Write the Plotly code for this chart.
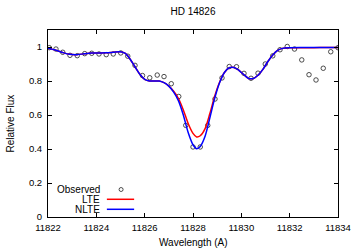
import plotly.graph_objects as go

# Observed spectrum
obs_wl = [11822.05, 11822.33, 11822.61, 11822.91, 11823.21, 11823.52, 11823.81, 11824.11,
          11824.41, 11824.70, 11825.01, 11825.30, 11825.60, 11825.91, 11826.21, 11826.52,
          11826.80, 11827.10, 11827.41, 11827.70, 11828.00, 11828.30, 11828.61, 11828.91,
          11829.20, 11829.50, 11829.80, 11830.11, 11830.40, 11830.69, 11830.99, 11831.30,
          11831.60, 11831.90, 11832.20, 11832.50, 11832.80, 11833.09, 11833.39, 11833.70,
          11834.00]
obs_flux = [0.996, 0.988, 0.969, 0.951, 0.949, 0.961, 0.963, 0.959,
            0.955, 0.959, 0.965, 0.946, 0.892, 0.832, 0.819, 0.835,
            0.826, 0.784, 0.709, 0.539, 0.412, 0.412, 0.539, 0.694,
            0.818, 0.885, 0.884, 0.845, 0.816, 0.846, 0.900, 0.948,
            0.984, 1.003, 0.988, 0.924, 0.837, 0.806, 0.875, 0.972,
            0.996]

# Model spectra
model_wl = [11822.0, 11822.3, 11822.6, 11822.9, 11823.2, 11823.5, 11823.8, 11824.1,
            11824.4, 11824.7, 11825.0, 11825.2, 11825.4, 11825.6, 11825.8, 11826.0,
            11826.2, 11826.4, 11826.6, 11826.8, 11827.0, 11827.2, 11827.4, 11827.6,
            11827.8, 11828.0, 11828.15, 11828.3, 11828.5, 11828.7, 11828.9, 11829.1,
            11829.3, 11829.5, 11829.7, 11829.9, 11830.1, 11830.3, 11830.5, 11830.7,
            11830.9, 11831.1, 11831.3, 11831.5, 11831.7, 11832.0, 11832.5, 11833.0,
            11833.5, 11834.0]
nlte_flux = [0.993, 0.982, 0.968, 0.957, 0.955, 0.960, 0.964, 0.965,
             0.966, 0.969, 0.972, 0.962, 0.928, 0.884, 0.840, 0.810,
             0.800, 0.800, 0.800, 0.790, 0.770, 0.735, 0.683, 0.600,
             0.497, 0.425, 0.402, 0.415, 0.475, 0.585, 0.700, 0.790,
             0.850, 0.878, 0.880, 0.863, 0.838, 0.815, 0.815, 0.835,
             0.870, 0.915, 0.953, 0.980, 0.992, 0.996, 0.997, 0.997,
             0.997, 0.997]
lte_flux = [0.993, 0.982, 0.968, 0.957, 0.955, 0.960, 0.964, 0.965,
            0.966, 0.969, 0.972, 0.962, 0.928, 0.884, 0.840, 0.810,
            0.800, 0.800, 0.800, 0.790, 0.770, 0.740, 0.697, 0.630,
            0.550, 0.492, 0.471, 0.478, 0.520, 0.610, 0.712, 0.793,
            0.850, 0.878, 0.880, 0.863, 0.838, 0.815, 0.815, 0.835,
            0.870, 0.915, 0.953, 0.980, 0.992, 0.996, 0.996, 0.996,
            0.997, 0.997]

x_ticks = [11822, 11824, 11826, 11828, 11830, 11832, 11834]
y_ticks = [0, 0.2, 0.4, 0.6, 0.8, 1]
y_tick_labels = ["0", "0.2", "0.4", "0.6", "0.8", "1"]

FONT = "Liberation Sans, Arial, sans-serif"

fig = go.Figure()
fig.add_trace(go.Scatter(x=obs_wl, y=obs_flux, mode="markers", name="Observed",
                         marker=dict(symbol="circle-open", size=4.5, color="#222222",
                                     line=dict(width=0.8, color="#222222")),
                         showlegend=False))
fig.add_trace(go.Scatter(x=model_wl, y=lte_flux, mode="lines", name="LTE",
                         line=dict(color="#ff0000", width=1.5, shape="spline", smoothing=0.8),
                         showlegend=False))
fig.add_trace(go.Scatter(x=model_wl, y=nlte_flux, mode="lines", name="NLTE",
                         line=dict(color="#0000ff", width=1.5, shape="spline", smoothing=0.8),
                         showlegend=False))

axis_common = dict(showline=True, linecolor="black", linewidth=1, mirror="ticks",
                   ticks="inside", ticklen=4, tickwidth=1, tickcolor="black",
                   showgrid=False, zeroline=False, automargin=False,
                   tickfont=dict(family=FONT, size=9.5, color="black"))

fig.update_xaxes(range=[11822, 11834], tickvals=x_ticks,
                 ticktext=[str(v) for v in x_ticks], ticklabelstandoff=2,
                 **axis_common)
fig.update_yaxes(range=[0, 1.1], tickvals=y_ticks, ticktext=y_tick_labels,
                 ticklabelstandoff=3,
                 **axis_common)

annotations = [
    dict(text="Wavelength (A)", x=0.5, y=-0.134, xref="paper", yref="paper",
         xanchor="center", yanchor="middle", showarrow=False,
         font=dict(family=FONT, size=10, color="black")),
    dict(text="Relative Flux", x=-0.131, y=0.5, xref="paper", yref="paper",
         xanchor="center", yanchor="middle", showarrow=False, textangle=-90,
         font=dict(family=FONT, size=10, color="black")),
]

# gnuplot-style key: right-aligned text followed by sample
legend_items = [("Observed", "marker", 0.147), ("LTE", "#ff0000", 0.0947), ("NLTE", "#0000ff", 0.0412)]
shapes = []
for label, kind, ypos in legend_items:
    annotations.append(dict(text=label, x=0.183, y=ypos, xref="paper", yref="paper",
                            xanchor="right", yanchor="middle", showarrow=False,
                            borderpad=0,
                            font=dict(family=FONT, size=10, color="black")))
    if kind == "marker":
        shapes.append(dict(type="circle", xref="paper", yref="paper",
                           xsizemode="pixel", ysizemode="pixel",
                           xanchor=0.252, yanchor=ypos, x0=-2, x1=2, y0=-2, y1=2,
                           line=dict(color="#222222", width=0.8)))
    else:
        shapes.append(dict(type="line", xref="paper", yref="paper",
                           x0=0.203, x1=0.297, y0=ypos, y1=ypos,
                           line=dict(color=kind, width=1.5)))

fig.update_layout(
    width=356, height=249,
    margin=dict(l=48, r=18, t=30, b=32, autoexpand=False),
    paper_bgcolor="white", plot_bgcolor="white",
    title=dict(text="HD 14826", x=0.542, xanchor="center", y=0.952, yanchor="middle",
               font=dict(family=FONT, size=10, color="black")),
    annotations=annotations, shapes=shapes,
    showlegend=False,
)

fig.write_html("out.html", config={"displayModeBar": False},
               post_script="document.body.style.margin='0';document.body.style.overflow='hidden';")
